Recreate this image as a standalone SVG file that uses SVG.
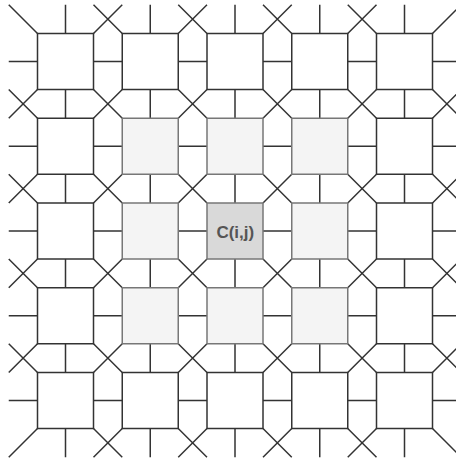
<svg xmlns="http://www.w3.org/2000/svg" width="456" height="461" viewBox="0 0 456 461">
<style>
.c{fill:none;stroke:#333;stroke-width:1.5}
.n{fill:#fff;stroke:#333;stroke-width:1.5}
.h{fill:#f4f4f4;stroke:#777;stroke-width:1.5}
.m{fill:#d9d9d9;stroke:#777;stroke-width:1.5}
.t{font-family:"Liberation Sans",Arial,sans-serif;font-weight:bold;font-size:17px;fill:#555;text-anchor:middle}
</style>
<rect width="456" height="461" fill="#fff"/>
<g id="connectors">
<path class="c" d="M8.75 61.5h28.75M93.5 61.5h28.75M178.25 61.5h28.75M263 61.5h28.75M347.75 61.5h28.75M432.5 61.5h28.75"/>
<path class="c" d="M8.75 146.25h28.75M93.5 146.25h28.75M178.25 146.25h28.75M263 146.25h28.75M347.75 146.25h28.75M432.5 146.25h28.75"/>
<path class="c" d="M8.75 231h28.75M93.5 231h28.75M178.25 231h28.75M263 231h28.75M347.75 231h28.75M432.5 231h28.75"/>
<path class="c" d="M8.75 315.75h28.75M93.5 315.75h28.75M178.25 315.75h28.75M263 315.75h28.75M347.75 315.75h28.75M432.5 315.75h28.75"/>
<path class="c" d="M8.75 400.5h28.75M93.5 400.5h28.75M178.25 400.5h28.75M263 400.5h28.75M347.75 400.5h28.75M432.5 400.5h28.75"/>
<path class="c" d="M65.5 4.75v28.75M65.5 89.5v28.75M65.5 174.25v28.75M65.5 259v28.75M65.5 343.75v28.75M65.5 428.5v28.75"/>
<path class="c" d="M150.25 4.75v28.75M150.25 89.5v28.75M150.25 174.25v28.75M150.25 259v28.75M150.25 343.75v28.75M150.25 428.5v28.75"/>
<path class="c" d="M235 4.75v28.75M235 89.5v28.75M235 174.25v28.75M235 259v28.75M235 343.75v28.75M235 428.5v28.75"/>
<path class="c" d="M319.75 4.75v28.75M319.75 89.5v28.75M319.75 174.25v28.75M319.75 259v28.75M319.75 343.75v28.75M319.75 428.5v28.75"/>
<path class="c" d="M404.5 4.75v28.75M404.5 89.5v28.75M404.5 174.25v28.75M404.5 259v28.75M404.5 343.75v28.75M404.5 428.5v28.75"/>
<path class="c" d="M8.75 4.75l28.75 28.75M93.5 4.75l28.75 28.75M178.25 4.75l28.75 28.75M263 4.75l28.75 28.75M347.75 4.75l28.75 28.75M122.25 4.75l-28.75 28.75M207 4.75l-28.75 28.75M291.75 4.75l-28.75 28.75M376.5 4.75l-28.75 28.75M461.25 4.75l-28.75 28.75"/>
<path class="c" d="M8.75 89.5l28.75 28.75M93.5 89.5l28.75 28.75M178.25 89.5l28.75 28.75M263 89.5l28.75 28.75M347.75 89.5l28.75 28.75M432.5 89.5l28.75 28.75M37.5 89.5l-28.75 28.75M122.25 89.5l-28.75 28.75M207 89.5l-28.75 28.75M291.75 89.5l-28.75 28.75M376.5 89.5l-28.75 28.75M461.25 89.5l-28.75 28.75"/>
<path class="c" d="M8.75 174.25l28.75 28.75M93.5 174.25l28.75 28.75M178.25 174.25l28.75 28.75M263 174.25l28.75 28.75M347.75 174.25l28.75 28.75M432.5 174.25l28.75 28.75M37.5 174.25l-28.75 28.75M122.25 174.25l-28.75 28.75M207 174.25l-28.75 28.75M291.75 174.25l-28.75 28.75M376.5 174.25l-28.75 28.75M461.25 174.25l-28.75 28.75"/>
<path class="c" d="M8.75 259l28.75 28.75M93.5 259l28.75 28.75M178.25 259l28.75 28.75M263 259l28.75 28.75M347.75 259l28.75 28.75M432.5 259l28.75 28.75M37.5 259l-28.75 28.75M122.25 259l-28.75 28.75M207 259l-28.75 28.75M291.75 259l-28.75 28.75M376.5 259l-28.75 28.75M461.25 259l-28.75 28.75"/>
<path class="c" d="M8.75 343.75l28.75 28.75M93.5 343.75l28.75 28.75M178.25 343.75l28.75 28.75M263 343.75l28.75 28.75M347.75 343.75l28.75 28.75M432.5 343.75l28.75 28.75M37.5 343.75l-28.75 28.75M122.25 343.75l-28.75 28.75M207 343.75l-28.75 28.75M291.75 343.75l-28.75 28.75M376.5 343.75l-28.75 28.75M461.25 343.75l-28.75 28.75"/>
<path class="c" d="M93.5 428.5l28.75 28.75M178.25 428.5l28.75 28.75M263 428.5l28.75 28.75M347.75 428.5l28.75 28.75M432.5 428.5l28.75 28.75M37.5 428.5l-28.75 28.75M122.25 428.5l-28.75 28.75M207 428.5l-28.75 28.75M291.75 428.5l-28.75 28.75M376.5 428.5l-28.75 28.75"/>
</g>
<g id="n00"><rect class="n" x="37.5" y="33.5" width="56" height="56"/></g>
<g id="n10"><rect class="n" x="122.25" y="33.5" width="56" height="56"/></g>
<g id="n20"><rect class="n" x="207" y="33.5" width="56" height="56"/></g>
<g id="n30"><rect class="n" x="291.75" y="33.5" width="56" height="56"/></g>
<g id="n40"><rect class="n" x="376.5" y="33.5" width="56" height="56"/></g>
<g id="n01"><rect class="n" x="37.5" y="118.25" width="56" height="56"/></g>
<g id="n11"><rect class="h" x="122.25" y="118.25" width="56" height="56"/></g>
<g id="n21"><rect class="h" x="207" y="118.25" width="56" height="56"/></g>
<g id="n31"><rect class="h" x="291.75" y="118.25" width="56" height="56"/></g>
<g id="n41"><rect class="n" x="376.5" y="118.25" width="56" height="56"/></g>
<g id="n02"><rect class="n" x="37.5" y="203" width="56" height="56"/></g>
<g id="n12"><rect class="h" x="122.25" y="203" width="56" height="56"/></g>
<g id="n22"><rect class="m" x="207" y="203" width="56" height="56"/><text class="t" x="235.3" y="237.5">C(i,j)</text></g>
<g id="n32"><rect class="h" x="291.75" y="203" width="56" height="56"/></g>
<g id="n42"><rect class="n" x="376.5" y="203" width="56" height="56"/></g>
<g id="n03"><rect class="n" x="37.5" y="287.75" width="56" height="56"/></g>
<g id="n13"><rect class="h" x="122.25" y="287.75" width="56" height="56"/></g>
<g id="n23"><rect class="h" x="207" y="287.75" width="56" height="56"/></g>
<g id="n33"><rect class="h" x="291.75" y="287.75" width="56" height="56"/></g>
<g id="n43"><rect class="n" x="376.5" y="287.75" width="56" height="56"/></g>
<g id="n04"><rect class="n" x="37.5" y="372.5" width="56" height="56"/></g>
<g id="n14"><rect class="n" x="122.25" y="372.5" width="56" height="56"/></g>
<g id="n24"><rect class="n" x="207" y="372.5" width="56" height="56"/></g>
<g id="n34"><rect class="n" x="291.75" y="372.5" width="56" height="56"/></g>
<g id="n44"><rect class="n" x="376.5" y="372.5" width="56" height="56"/></g>
</svg>
